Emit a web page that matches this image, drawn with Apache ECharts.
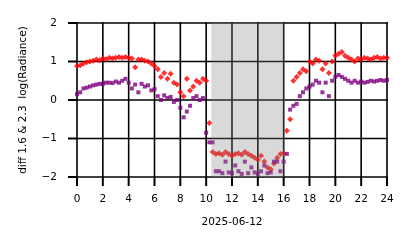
<!DOCTYPE html>
<html>
<head>
<meta charset="utf-8">
<script src="https://cdn.jsdelivr.net/npm/echarts@6/dist/echarts.min.js"></script>
<style>
  html, body { margin: 0; padding: 0; background: #fff; }
  #chart { width: 414px; height: 248px; }
</style>
</head>
<body>
<div id="chart"></div>
<script>
// hours of day, every 15 minutes
const hours = [];
for (let i = 0; i <= 96; i++) hours.push(i / 4);

// diff 1.6 & 2.3 log(Radiance)
const redValues = [
  0.88, 0.9, 0.95, 0.98,
  1.0, 1.02, 1.05, 1.03,
  1.08, 1.06, 1.1, 1.08,
  1.1, 1.12, 1.1, 1.12,
  1.1, 1.08, 0.85, 1.05,
  1.05, 1.02, 1.0, 0.95,
  0.88, 0.8, 0.6, 0.7,
  0.55, 0.68, 0.45, 0.4,
  0.2, 0.1, 0.55, 0.25,
  0.35, 0.5, 0.45, 0.55,
  0.5, -0.6, -1.35, -1.4,
  -1.38, -1.42, -1.35, -1.4,
  -1.45, -1.4, -1.38, -1.42,
  -1.35, -1.4, -1.45, -1.5,
  -1.55, -1.45, -1.6, -1.75,
  -1.8, -1.65, -1.5, -1.4,
  -1.38, -0.8, -0.5, 0.5,
  0.6, 0.7, 0.8, 0.75,
  1.0, 0.95, 1.05, 1.02,
  0.8, 0.95, 0.7, 1.0,
  1.15, 1.2, 1.25, 1.15,
  1.1, 1.05, 1.0, 1.08,
  1.05, 1.1, 1.08, 1.05,
  1.1, 1.12, 1.08, 1.1,
  1.1
];
const purpleValues = [
  0.15, 0.2, 0.3, 0.32,
  0.35, 0.38, 0.4, 0.42,
  0.42, 0.45, 0.45, 0.44,
  0.48, 0.45, 0.5, 0.55,
  0.45, 0.3, 0.4, 0.2,
  0.42, 0.35, 0.38, 0.25,
  0.28, 0.1, 0.0, 0.12,
  0.05, 0.08, -0.05, 0.0,
  -0.2, -0.45, -0.3, -0.15,
  0.05, 0.1, 0.0, 0.05,
  -0.85, -1.1, -1.1, -1.85,
  -1.85, -1.9, -1.6, -1.88,
  -1.9, -1.7, -1.85, -1.92,
  -1.6, -1.9, -1.75, -1.88,
  -1.92, -1.85, -1.7, -1.9,
  -1.88, -1.6, -1.6, -1.85,
  -1.6, -1.4, -0.25, -0.15,
  -0.1, 0.1, 0.2, 0.3,
  0.35, 0.4, 0.5, 0.45,
  0.2, 0.45, 0.1, 0.5,
  0.6, 0.65, 0.6, 0.55,
  0.5, 0.45, 0.5, 0.45,
  0.48, 0.45, 0.47, 0.5,
  0.48, 0.5, 0.52, 0.5,
  0.52
];
// tick values
const xTicks = [0, 2, 4, 6, 8, 10, 12, 14, 16, 18, 20, 22, 24];
const yTicks = [-2, -1, 0, 1, 2];
// shaded period (hours)
const shadeRange = [10.4, 16.1];

const chart = echarts.init(document.getElementById('chart'), null, { renderer: 'canvas' });
const font = 'DejaVu Sans';
const black = '#000';
const xMin = 0, xMax = 24, yMin = -2, yMax = 2;

// grid lines + outward ticks as thin filled bars, placed through the axes' scales
function renderGrid(params, api) {
  const children = [];
  const bar = (x, y, w, h) => children.push({
    type: 'rect',
    shape: { x: x, y: y, width: w, height: h },
    style: { fill: black }
  });
  const lw = 1.6;
  xTicks.forEach(t => {
    const top = api.coord([t, yMax]);
    const bot = api.coord([t, yMin]);
    bar(top[0] - lw / 2, top[1] - lw / 2, lw, bot[1] - top[1] + lw);
    bar(bot[0] - 1, bot[1], 2, 9);
  });
  yTicks.forEach(t => {
    const left = api.coord([xMin, t]);
    const right = api.coord([xMax, t]);
    bar(left[0] - lw / 2, left[1] - lw / 2, right[0] - left[0] + lw, lw);
    bar(left[0] - 9, left[1] - 1, 9, 2);
  });
  return { type: 'group', children };
}

const option = {
  animation: false,
  grid: { left: 77, right: 27, top: 23, bottom: 71 },
  xAxis: {
    type: 'value',
    min: xMin, max: xMax, interval: 2,
    name: '2025-06-12',
    nameLocation: 'middle',
    nameGap: 40,
    nameTextStyle: { color: black, fontFamily: font, fontSize: 10.5 },
    axisLine: { show: false },
    axisTick: { show: false },
    splitLine: { show: false },
    axisLabel: { color: black, fontFamily: font, fontSize: 10.5, margin: 17 }
  },
  yAxis: {
    type: 'value',
    min: yMin, max: yMax, interval: 1,
    name: 'diff 1.6 & 2.3  log(Radiance)',
    nameLocation: 'middle',
    nameGap: 48,
    nameTextStyle: { color: black, fontFamily: font, fontSize: 10.5 },
    axisLine: { show: false },
    axisTick: { show: false },
    splitLine: { show: false },
    axisLabel: {
      color: black, fontFamily: font, fontSize: 10.5, margin: 20,
      formatter: v => String(v).replace('-', '\u2212')
    }
  },
  series: [
    {
      type: 'custom',
      z: 1,
      silent: true,
      clip: false,
      data: [[xMin, yMin]],
      renderItem: renderGrid
    },
    {
      type: 'scatter',
      symbol: 'diamond',
      symbolSize: 6,
      itemStyle: { color: '#ff0000' },
      data: hours.map((h, i) => [h, redValues[i]])
    },
    {
      type: 'scatter',
      symbol: 'rect',
      symbolSize: 4,
      itemStyle: { color: '#800080' },
      data: hours.map((h, i) => [h, purpleValues[i]])
    },
    {
      type: 'custom',
      z: 10,
      silent: true,
      data: [shadeRange],
      renderItem: (params, api) => {
        const p0 = api.coord([api.value(0), yMax]);
        const p1 = api.coord([api.value(1), yMin]);
        return {
          type: 'rect',
          shape: { x: p0[0], y: p0[1], width: p1[0] - p0[0], height: p1[1] - p0[1] },
          style: { fill: 'rgba(128,128,128,0.3)' }
        };
      }
    }
  ]
};
chart.setOption(option);
</script>
</body>
</html>
